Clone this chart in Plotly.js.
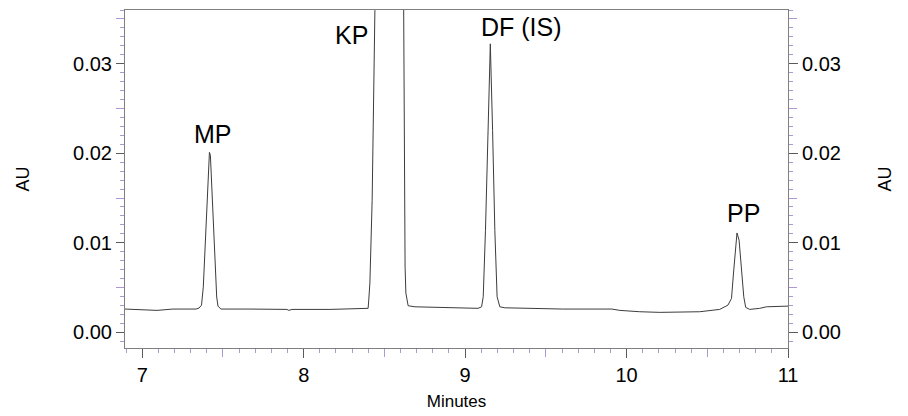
<!DOCTYPE html>
<html>
<head>
<meta charset="utf-8">
<script src="https://cdn.plot.ly/plotly-3.0.1.min.js"></script>
<style>
  html, body { margin: 0; padding: 0; background: #ffffff; }
  #chart { width: 908px; height: 416px; }
</style>
</head>
<body>
<div id="chart"></div>
<script>
// Chromatogram trace: retention time (minutes) and detector response (AU)
const timeMin = [
  6.893, 7.091, 7.190, 7.295,
  7.333, 7.351, 7.367, 7.378, 7.388, 7.399, 7.410, 7.416, 7.422, 7.432, 7.443, 7.453, 7.461, 7.469, 7.487,
  7.667, 7.896, 7.908, 7.927, 8.162, 8.329, 8.389,
  8.399, 8.403, 8.410, 8.424, 8.435, 8.441, 8.446, 8.460, 8.530, 8.600, 8.617,
  8.620, 8.622, 8.628, 8.633, 8.641, 8.647, 8.689, 8.874, 9.050, 9.080,
  9.102, 9.112, 9.126, 9.142, 9.156, 9.170, 9.184, 9.198, 9.215, 9.246,
  9.432, 9.587, 9.605, 9.909, 9.958, 10.082, 10.206, 10.453, 10.577,
  10.628, 10.650, 10.664, 10.676, 10.684, 10.697, 10.712, 10.726, 10.738, 10.763,
  10.825, 10.866, 11.000
];
const absorbance = [
  0.00260, 0.00245, 0.00260, 0.00264,
  0.00260, 0.00271, 0.00304, 0.00505, 0.00918, 0.01363, 0.01809, 0.02010, 0.01977, 0.01531, 0.01029, 0.00583, 0.00394, 0.00293, 0.00260,
  0.00260, 0.00256, 0.00245, 0.00256, 0.00256, 0.00260, 0.00263,
  0.00268, 0.00360, 0.00550, 0.01475, 0.02590, 0.03593, 0.05000, 0.10000, 0.25000, 0.10000, 0.05000,
  0.03590, 0.02222, 0.00728, 0.00438, 0.00338, 0.00297, 0.00285, 0.00279, 0.00268, 0.00268,
  0.00285, 0.00397, 0.01140, 0.02255, 0.03222, 0.02255, 0.01140, 0.00397, 0.00285, 0.00274,
  0.00268, 0.00268, 0.00260, 0.00260, 0.00245, 0.00230, 0.00223, 0.00230, 0.00256,
  0.00304, 0.00379, 0.00695, 0.00992, 0.01110, 0.01029, 0.00695, 0.00397, 0.00279, 0.00256,
  0.00268, 0.00285, 0.00293
];

// Peak names
const peakNames = ['MP', 'KP', 'DF (IS)', 'PP'];

// Axis tick marks
const xMajorTicks = [7, 8, 9, 10, 11];
const xHalfTicks = [7.5, 8.5, 9.5, 10.5];
const yMajorTicks = [0, 0.01, 0.02, 0.03];
const yTickText = ['0.00', '0.01', '0.02', '0.03'];
const yHalfTicks = [0.005, 0.015, 0.025, 0.035];

const FONT = 'Liberation Sans, Arial, Helvetica, sans-serif';
const xRange = [6.893, 11.0];
const yRange = [-0.00175, 0.036];
const axisGrey = '#7f7f7f';
const tickGrey = '#5a5a5a';
const minorTint = '#ad98d4';

// Label anchors in data coordinates, one per peak
const labelSpots = [
  { x: 7.439, y: 0.0222 },
  { x: 8.298, y: 0.0332 },
  { x: 9.351, y: 0.0341 },
  { x: 10.723, y: 0.01336 }
];

const traces = [
  {
    x: timeMin, y: absorbance, type: 'scatter', mode: 'lines',
    line: { color: '#3c3c3c', width: 1 },
    hoverinfo: 'skip', showlegend: false
  },
  // empty traces so the overlay axes are drawn
  { x: [], y: [], xaxis: 'x2', yaxis: 'y3', type: 'scatter', showlegend: false, hoverinfo: 'skip' },
  { x: [], y: [], xaxis: 'x', yaxis: 'y2', type: 'scatter', showlegend: false, hoverinfo: 'skip' },
  { x: [], y: [], xaxis: 'x', yaxis: 'y4', type: 'scatter', showlegend: false, hoverinfo: 'skip' }
];

const yCommon = {
  range: yRange, showgrid: false, zeroline: false, fixedrange: true
};

const layout = {
  width: 908, height: 416,
  margin: { l: 125, r: 120, t: 10, b: 68 },
  paper_bgcolor: '#ffffff', plot_bgcolor: '#ffffff',
  font: { family: FONT, color: '#000000', size: 20 },
  showlegend: false,
  xaxis: {
    range: xRange, showgrid: false, zeroline: false, fixedrange: true,
    showline: true, linecolor: axisGrey, linewidth: 1, mirror: true,
    tickmode: 'array', tickvals: xMajorTicks, ticktext: xMajorTicks.map(String),
    ticks: 'outside', ticklen: 9, tickcolor: tickGrey, tickwidth: 1,
    tickfont: { family: FONT, size: 20, color: '#000' },
    minor: { dtick: 0.1, ticks: 'outside', ticklen: 4, tickcolor: minorTint, tickwidth: 1, showgrid: false },
    title: { text: 'Minutes', font: { family: FONT, size: 17, color: '#000' }, standoff: 10 }
  },
  xaxis2: {
    overlaying: 'x', range: xRange, showgrid: false, zeroline: false, fixedrange: true,
    showline: false, showticklabels: false,
    tickmode: 'array', tickvals: xHalfTicks,
    ticks: 'outside', ticklen: 8, tickcolor: minorTint, tickwidth: 1
  },
  yaxis: Object.assign({}, yCommon, {
    side: 'left',
    showline: true, linecolor: axisGrey, linewidth: 1,
    tickmode: 'array', tickvals: yMajorTicks, ticktext: yTickText,
    ticks: 'outside', ticklen: 8, tickcolor: tickGrey, tickwidth: 1,
    tickfont: { family: FONT, size: 20, color: '#000' },
    minor: { dtick: 0.001, ticks: 'outside', ticklen: 4, tickcolor: minorTint, tickwidth: 1, showgrid: false },
    title: { text: 'AU', font: { family: FONT, size: 18, color: '#000' }, standoff: 38 }
  }),
  yaxis2: Object.assign({}, yCommon, {
    overlaying: 'y', side: 'right',
    showline: true, linecolor: axisGrey, linewidth: 1,
    tickmode: 'array', tickvals: yMajorTicks, ticktext: yTickText,
    ticks: 'outside', ticklen: 9, tickcolor: tickGrey, tickwidth: 1,
    tickfont: { family: FONT, size: 20, color: '#000' },
    minor: { dtick: 0.001, ticks: 'outside', ticklen: 4, tickcolor: minorTint, tickwidth: 1, showgrid: false },
    title: { text: 'AU', font: { family: FONT, size: 18, color: '#000' }, standoff: 38 }
  }),
  yaxis3: Object.assign({}, yCommon, {
    overlaying: 'y', side: 'left', showline: false, showticklabels: false,
    tickmode: 'array', tickvals: yHalfTicks,
    ticks: 'outside', ticklen: 8, tickcolor: minorTint, tickwidth: 1
  }),
  yaxis4: Object.assign({}, yCommon, {
    overlaying: 'y', side: 'right', showline: false, showticklabels: false,
    tickmode: 'array', tickvals: yHalfTicks,
    ticks: 'outside', ticklen: 8, tickcolor: minorTint, tickwidth: 1
  }),
  annotations: peakNames.map((name, i) => ({
    text: name, x: labelSpots[i].x, y: labelSpots[i].y,
    xref: 'x', yref: 'y', xanchor: 'center', yanchor: 'middle',
    showarrow: false,
    font: { family: FONT, size: 25, color: '#000' }
  }))
};

Plotly.newPlot('chart', traces, layout, { staticPlot: true, displayModeBar: false });
</script>
</body>
</html>
